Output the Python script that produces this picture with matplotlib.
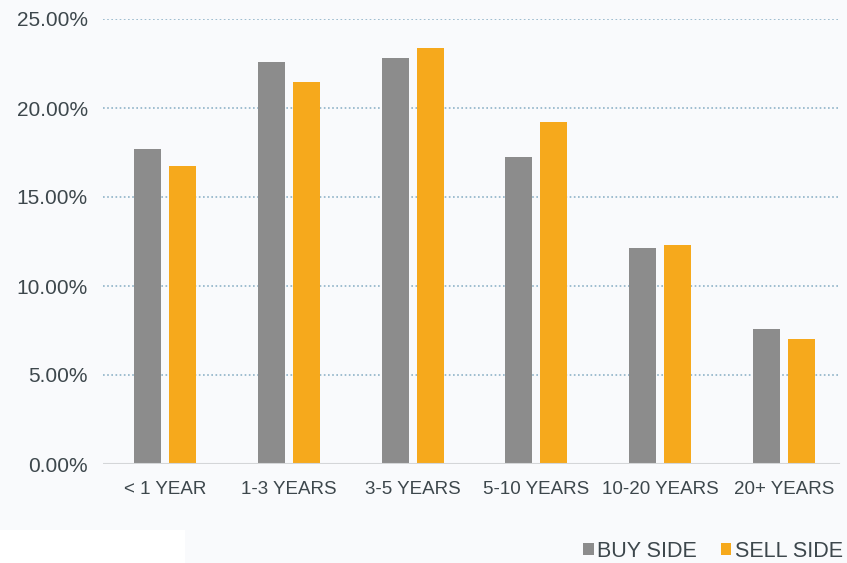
import matplotlib
matplotlib.use("Agg")
import matplotlib.pyplot as plt
import numpy as np
from matplotlib.patches import Rectangle

categories = ["< 1 YEAR", "1-3 YEARS", "3-5 YEARS", "5-10 YEARS", "10-20 YEARS", "20+ YEARS"]
buy_side = [17.7, 22.6, 22.8, 17.25, 12.15, 7.6]
sell_side = [16.75, 21.45, 23.35, 19.2, 12.3, 7.05]
series_names = ["BUY SIDE", "SELL SIDE"]
y_ticks = [0, 5, 10, 15, 20, 25]

grey = "#8c8c8c"
orange = "#f6a91c"
text_col = "#3d474c"

plt.rcParams["font.family"] = ["Liberation Sans", "DejaVu Sans"]

fig = plt.figure(figsize=(8.47, 5.63), dpi=100, facecolor="#f9fafc")
fig.patches.append(Rectangle((0, 0), 185 / 847, 33 / 563, transform=fig.transFigure,
                             facecolor="white", edgecolor="none", zorder=0))
ax = fig.add_axes([103 / 847, 99 / 563, 743 / 847, 445 / 563])
ax.set_facecolor("none")

x = np.arange(len(categories))
w = 0.218
off = 0.141
ax.bar(x - off, buy_side, w, color=grey, label=series_names[0], zorder=3)
ax.bar(x + off, sell_side, w, color=orange, label=series_names[1], zorder=3)

ax.set_xlim(-0.5, len(categories) - 0.5)
ax.set_ylim(0, 25)
ax.set_yticks(y_ticks)
ax.set_yticklabels([f"{v:.2f}%" for v in y_ticks])
ax.set_xticks(x)
ax.set_xticklabels(categories)

for v in y_ticks[1:]:
    ax.axhline(v, color="#8fb3c8", lw=1.2, ls=(0, (1, 1.5)), zorder=1, xmax=0.99)
ax.axhline(0, color="#d4d6d8", lw=1.5, zorder=4, xmax=0.99)

for s in ax.spines.values():
    s.set_visible(False)
ax.tick_params(axis="both", length=0, colors=text_col)
ax.tick_params(axis="y", pad=11, labelsize=15)
ax.tick_params(axis="x", pad=12, labelsize=13.5)

leg = fig.legend(loc="lower right", bbox_to_anchor=(862 / 847, -18 / 563), ncol=2, frameon=False,
                 fontsize=15.5, handlelength=0.5, handleheight=0.5, handletextpad=0.15,
                 columnspacing=1.1, labelcolor=text_col)

fig.savefig("out.png", dpi=100, facecolor=fig.get_facecolor())
